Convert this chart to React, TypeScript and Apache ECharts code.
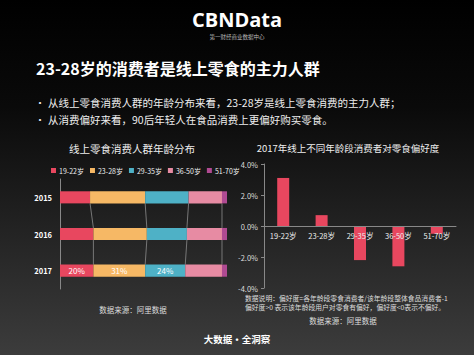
import React, { useEffect, useRef } from "react";
import * as echarts from "echarts";

const years = ["2015", "2016", "2017"];
const ageGroups = ["19-22岁", "23-28岁", "29-35岁", "36-50岁", "51-70岁"];
const shareByGroup: number[][] = [
  [18, 20, 20],
  [33, 32, 31],
  [26, 24, 24],
  [20, 21, 22],
  [3, 3, 3],
];
const labeledYear = "2017";
const labeledGroups = ["19-22岁", "23-28岁", "29-35岁"];
const groupColors = ["#e8475f", "#f6b865", "#4eb1c6", "#e78ba3", "#b04a92"];

const prefCategories = ["19-22岁", "23-28岁", "29-35岁", "36-50岁", "51-70岁"];
const prefValues = [3.1, 0.7, -2.2, -2.6, -0.5];

const FONT = "'Noto Sans CJK SC', 'Noto Sans', sans-serif";

export default function App() {
  const ref = useRef<HTMLDivElement>(null);
  useEffect(() => {
    if (!ref.current) return;
    const chart = echarts.init(ref.current, undefined, { renderer: "svg" });

    const cum: number[][] = years.map((_, yi) => {
      let s = 0;
      return ageGroups.map((_, gi) => {
        s += shareByGroup[gi][yi];
        return s;
      });
    });
    const connectors: number[][] = [];
    for (let yi = 0; yi < years.length - 1; yi++) {
      for (let gi = 0; gi < ageGroups.length - 1; gi++) {
        connectors.push([cum[yi][gi], cum[yi + 1][gi], yi]);
      }
    }

    const barSeries: any[] = ageGroups.map((g, gi) => ({
      name: g,
      type: "bar",
      stack: "total",
      xAxisIndex: 0,
      yAxisIndex: 0,
      barWidth: "33%",
      itemStyle: { color: groupColors[gi] },
      data: years.map((y, yi) => ({
        value: shareByGroup[gi][yi],
        label: {
          show: y === labeledYear && labeledGroups.includes(g),
          formatter: "{c}%",
          color: "#fff",
          fontSize: 8,
          fontFamily: FONT,
        },
      })),
    }));

    const prefGridHeight = 124;

    const option: any = {
      animation: false,
      backgroundColor: {
        type: "linear",
        x: 0,
        y: 0,
        x2: 0,
        y2: 1,
        colorStops: [
          { offset: 0, color: "#000000" },
          { offset: 0.3, color: "#0a0a0a" },
          { offset: 1, color: "#3c3c3c" },
        ],
      },
      textStyle: { fontFamily: FONT },
      legend: {
        data: ageGroups,
        left: 46,
        top: 162,
        itemWidth: 5,
        itemHeight: 5,
        itemGap: 6,
        icon: "rect",
        textStyle: { color: "#eee", fontSize: 7, fontFamily: FONT, padding: [0, 0, 0, -2] },
      },
      grid: [
        { left: 60, top: 179, width: 167, height: 110 },
        { left: 264, top: 164, width: 192, height: prefGridHeight },
      ],
      xAxis: [
        { type: "value", gridIndex: 0, min: 0, max: 100, show: false },
        {
          type: "category",
          gridIndex: 1,
          data: prefCategories,
          position: "bottom",
          offset: -prefGridHeight / 2,
          axisLine: { onZero: false, lineStyle: { color: "#888", width: 1 } },
          axisTick: { show: false },
          axisLabel: { color: "#eee", fontSize: 7.5, margin: 6, fontFamily: FONT },
          z: 5,
        },
      ],
      yAxis: [
        {
          type: "category",
          gridIndex: 0,
          data: years,
          inverse: true,
          axisLine: { lineStyle: { color: "#888", width: 1 } },
          axisTick: { show: false },
          axisLabel: { color: "#fff", fontSize: 7.5, fontWeight: "bold", margin: 8, fontFamily: FONT },
        },
        {
          type: "value",
          gridIndex: 1,
          min: -4,
          max: 4,
          interval: 2,
          axisLine: { show: true, lineStyle: { color: "#888", width: 1 } },
          axisTick: { show: true, length: 3, lineStyle: { color: "#888" } },
          splitLine: { show: false },
          axisLabel: {
            color: "#ddd",
            fontSize: 7.5,
            margin: 6,
            fontFamily: FONT,
            formatter: (v: number) => v.toFixed(1) + "%",
          },
        },
      ],
      series: [
        ...barSeries,
        {
          type: "custom",
          xAxisIndex: 0,
          yAxisIndex: 0,
          silent: true,
          z: 1,
          data: connectors,
          encode: { x: [0, 1], y: 2 },
          renderItem: (params: any, api: any) => {
            const x1 = api.value(0);
            const x2 = api.value(1);
            const yi = api.value(2);
            const p1 = api.coord([x1, yi]);
            const p2 = api.coord([x2, yi + 1]);
            const band = api.size([0, 1])[1];
            const half = (band * 0.33) / 2;
            return {
              type: "line",
              shape: { x1: p1[0], y1: p1[1] + half, x2: p2[0], y2: p2[1] - half },
              style: { stroke: "#777", lineWidth: 1 },
            };
          },
        },
        {
          name: "偏好度",
          type: "bar",
          xAxisIndex: 1,
          yAxisIndex: 1,
          barWidth: 12,
          itemStyle: { color: "#e8475f" },
          data: prefValues,
        },
      ],
      graphic: [
        {
          type: "text",
          left: "center",
          top: 9,
          style: { text: "CBNData", fill: "#fff", fontSize: 20, fontWeight: "bold", fontFamily: "'Open Sans', 'Noto Sans', sans-serif" },
        },
        {
          type: "text",
          left: "center",
          top: 34,
          style: { text: "第一财经商业数据中心", fill: "#bbb", fontSize: 5.5, fontFamily: FONT },
        },
        {
          type: "text",
          left: 36,
          top: 60,
          style: { text: "23-28岁的消费者是线上零食的主力人群", fill: "#fff", fontSize: 16, fontWeight: "bold", fontFamily: FONT },
        },
        {
          type: "text",
          left: 35,
          top: 97,
          style: { text: "•", fill: "#eee", fontSize: 10, fontFamily: FONT },
        },
        {
          type: "text",
          left: 48,
          top: 97,
          style: { text: "从线上零食消费人群的年龄分布来看，23-28岁是线上零食消费的主力人群；", fill: "#eee", fontSize: 10.5, fontFamily: FONT },
        },
        {
          type: "text",
          left: 35,
          top: 114,
          style: { text: "•", fill: "#eee", fontSize: 10, fontFamily: FONT },
        },
        {
          type: "text",
          left: 48,
          top: 114,
          style: { text: "从消费偏好来看，90后年轻人在食品消费上更偏好购买零食。", fill: "#eee", fontSize: 10.5, fontFamily: FONT },
        },
        {
          type: "text",
          x: 132,
          y: 148,
          style: { text: "线上零食消费人群年龄分布", fill: "#eee", fontSize: 10.5, fontFamily: FONT, align: "center", verticalAlign: "middle" },
        },
        {
          type: "text",
          x: 348,
          y: 148,
          style: { text: "2017年线上不同年龄段消费者对零食偏好度", fill: "#eee", fontSize: 9.5, fontFamily: FONT, align: "center", verticalAlign: "middle" },
        },
        {
          type: "text",
          x: 133,
          y: 309,
          style: { text: "数据来源：阿里数据", fill: "#ddd", fontSize: 7.5, fontFamily: FONT, align: "center", verticalAlign: "middle" },
        },
        {
          type: "text",
          x: 245,
          y: 298,
          style: { text: "数据说明：偏好度=各年龄段零食消费者/该年龄段整体食品消费者-1", fill: "#ddd", fontSize: 6.8, fontFamily: FONT, verticalAlign: "middle" },
        },
        {
          type: "text",
          x: 245,
          y: 306.5,
          style: { text: "偏好度>0 表示该年龄段用户对零食有偏好，偏好度<0表示不偏好。", fill: "#ddd", fontSize: 6.8, fontFamily: FONT, verticalAlign: "middle" },
        },
        {
          type: "text",
          x: 343,
          y: 320,
          style: { text: "数据来源：阿里数据", fill: "#ddd", fontSize: 7.5, fontFamily: FONT, align: "center", verticalAlign: "middle" },
        },
        {
          type: "text",
          x: 237,
          y: 339,
          style: { text: "大数据·全洞察", fill: "#fff", fontSize: 9.5, fontWeight: "bold", fontFamily: FONT, align: "center", verticalAlign: "middle" },
        },
      ],
    };
    chart.setOption(option);
    return () => chart.dispose();
  }, []);
  return (
    <div
      ref={ref}
      style={{ position: "fixed", left: 0, top: 0, width: 474, height: 355 }}
    />
  );
}
